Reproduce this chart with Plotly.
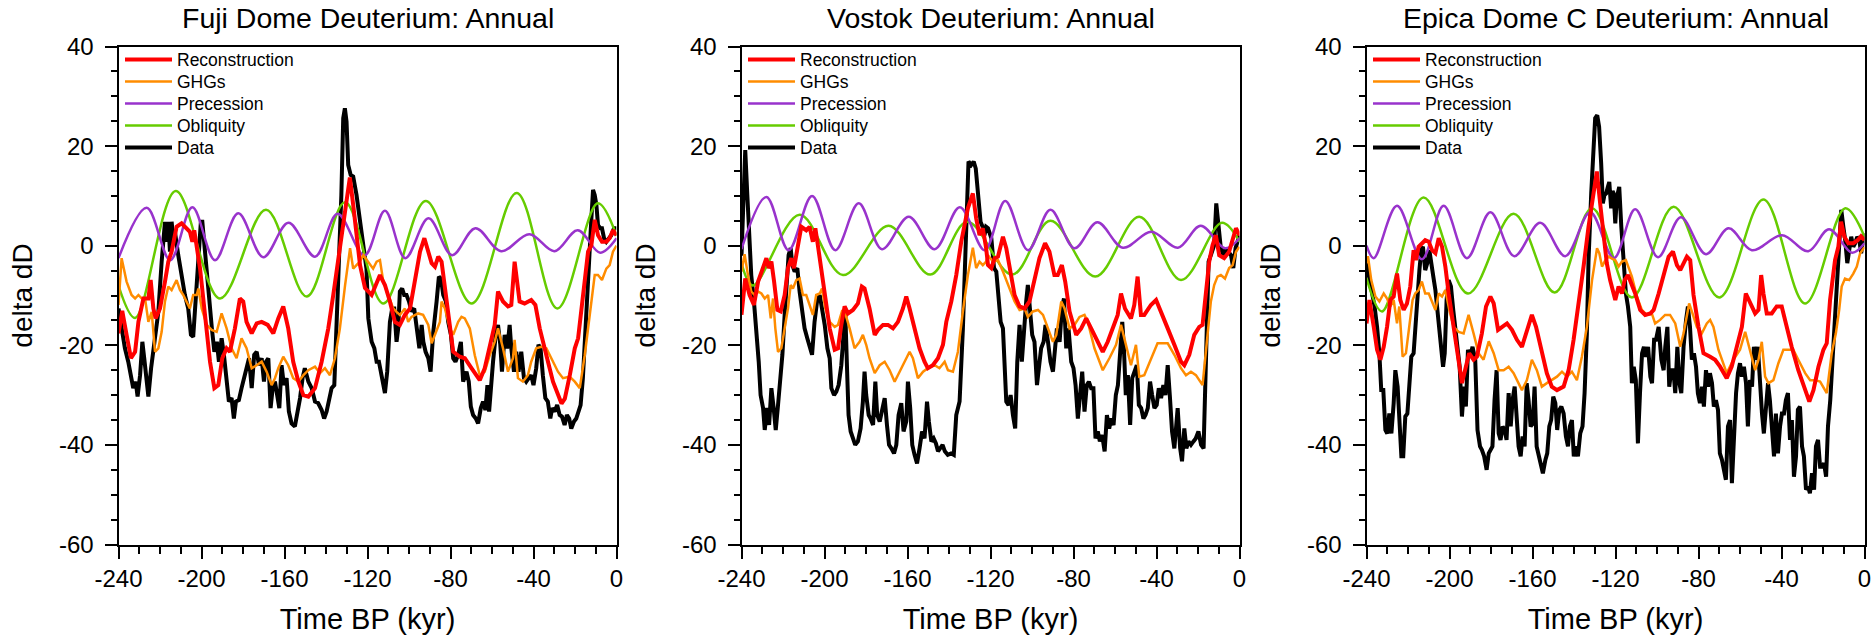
import plotly.graph_objects as go

# ---------------- data (time kyr BP, delta dD) ----------------
X_TICKS = [-240, -200, -160, -120, -80, -40, 0]
X_TICK_LABELS = ["-240", "-200", "-160", "-120", "-80", "-40", "0"]
Y_TICKS = [-60, -40, -20, 0, 20, 40]
Y_TICK_LABELS = ["-60", "-40", "-20", "0", "20", "40"]

TITLES = ["Fuji Dome Deuterium: Annual", "Vostok Deuterium: Annual", "Epica Dome C Deuterium: Annual"]
SERIES_NAMES = ["Reconstruction", "GHGs", "Precession", "Obliquity", "Data"]

# ---- Fuji Dome ----
FUJI_RECON = [(-240,-17.6),(-238.2,-13.1),(-236.1,-17.9),(-234.0,-22.6),(-232.0,-21.3),(-230.4,-15.3),(-228.0,-10.6),(-225.6,-10.6),(-224.5,-6.9),(-223.2,-12.6),(-222.1,-14.6),(-220.0,-12.6),(-217.6,-7.2),(-216.0,-3.2),(-214.4,-1.2),(-212.0,3.8),(-209.6,4.5),(-207.2,3.5),(-205.6,2.8),(-204.4,0.8),(-203.5,3.1),(-200.7,-4.6),(-198.3,-13.3),(-195.9,-23.3),(-193.8,-28.6),(-191.9,-28.0),(-190.0,-22.6),(-187.9,-20.6),(-186.3,-21.3),(-183.9,-16.6),(-181.5,-10.6),(-179.9,-11.2),(-178.3,-15.3),(-175.8,-17.6),(-173.4,-15.6),(-171.0,-15.3),(-168.1,-15.9),(-165.4,-17.6),(-163.0,-14.6),(-160.6,-12.2),(-158.2,-16.6),(-155.8,-23.3),(-153.3,-27.3),(-150.9,-30.0),(-148.5,-30.3),(-145.3,-28.6),(-142.1,-23.3),(-138.9,-16.6),(-136.5,-9.9),(-134.1,-3.2),(-130.9,6.2),(-128.5,13.7),(-126.9,8.2),(-125.3,1.5),(-123.6,-3.9),(-121.2,-8.5),(-118.0,-9.9),(-114.0,-5.9),(-111.6,-7.9),(-109.2,-11.2),(-106.8,-15.3),(-104.4,-15.9),(-102.0,-13.9),(-99.5,-12.6),(-97.1,-7.2),(-94.7,-1.2),(-92.6,1.5),(-90.7,-1.2),(-89.1,-3.5),(-87.5,-4.2),(-85.9,-2.2),(-84.3,-3.2),(-82.7,-8.6),(-80.3,-15.3),(-78.7,-21.3),(-75.5,-22.3),(-73.1,-22.6),(-69.9,-24.6),(-65.9,-27.0),(-63.5,-24.6),(-61.1,-20.6),(-58.7,-15.9),(-57.1,-9.2),(-54.7,-11.2),(-52.3,-12.2),(-50.7,-11.9),(-49.1,-3.2),(-47.8,-7.2),(-46.7,-11.2),(-44.3,-11.6),(-41.1,-10.9),(-39.1,-11.9),(-37.0,-16.6),(-33.8,-22.0),(-30.6,-27.3),(-26.5,-31.7),(-24.9,-30.7),(-22.5,-26.0),(-20.1,-20.6),(-18.5,-18.6),(-16.1,-9.9),(-13.7,-1.2),(-12.1,0.1),(-10.5,5.2),(-8.9,2.1),(-7.0,0.8),(-4.9,0.8),(-3.3,1.5),(-1.7,3.1),(0,2.1)]
FUJI_GHG = [(-240,-11.9),(-238.5,-2.5),(-236.1,-7.2),(-233.7,-9.9),(-232.0,-10.6),(-230.4,-9.9),(-228.8,-10.6),(-227.2,-10.6),(-225.6,-15.3),(-224.0,-13.3),(-222.4,-21.3),(-220.8,-20.6),(-219.2,-17.3),(-217.6,-11.2),(-216.0,-8.2),(-214.4,-8.9),(-212.0,-6.9),(-210.4,-8.9),(-208.8,-9.9),(-207.2,-11.2),(-205.6,-12.6),(-204.0,-9.9),(-202.3,-9.9),(-201.5,-8.6),(-199.9,-12.6),(-197.5,-15.9),(-195.1,-16.9),(-192.7,-17.3),(-190.3,-13.6),(-187.9,-16.6),(-185.5,-20.6),(-183.1,-22.6),(-180.7,-18.6),(-178.3,-20.6),(-175.8,-24.6),(-173.4,-24.0),(-171.0,-23.3),(-168.6,-25.3),(-166.2,-28.0),(-164.6,-26.6),(-163.0,-24.6),(-160.6,-22.3),(-158.2,-24.0),(-155.8,-26.6),(-153.3,-27.3),(-150.9,-26.0),(-148.5,-25.0),(-145.3,-24.3),(-142.9,-25.6),(-140.5,-24.6),(-138.1,-26.0),(-135.7,-22.6),(-133.3,-16.6),(-130.8,-7.9),(-128.4,-0.5),(-126.9,-4.6),(-125.3,-3.9),(-123.7,-3.2),(-122.0,-1.9),(-119.6,-3.2),(-117.3,-4.6),(-115.6,-3.2),(-114.0,-2.9),(-112.4,-7.2),(-110.0,-9.9),(-107.6,-12.6),(-106.0,-13.3),(-104.4,-13.9),(-102.0,-12.6),(-100.4,-15.3),(-98.8,-14.3),(-95.6,-13.6),(-93.2,-13.9),(-90.7,-15.9),(-89.1,-19.6),(-87.5,-17.9),(-85.1,-15.3),(-84.3,-11.2),(-82.7,-12.6),(-80.3,-16.6),(-78.7,-17.9),(-76.3,-15.3),(-74.7,-14.3),(-73.1,-14.6),(-70.7,-16.6),(-68.3,-22.0),(-65.9,-26.0),(-63.5,-25.3),(-61.1,-22.0),(-58.7,-19.3),(-57.1,-16.6),(-54.7,-20.6),(-52.3,-25.3),(-49.9,-22.6),(-49.1,-18.9),(-47.5,-26.6),(-45.1,-27.3),(-42.7,-26.0),(-41.1,-23.3),(-38.7,-20.6),(-36.2,-20.3),(-33.8,-20.6),(-31.4,-22.6),(-28.2,-25.3),(-25.8,-26.6),(-22.6,-26.3),(-20.1,-27.3),(-17.7,-28.6),(-15.3,-22.0),(-13.7,-16.6),(-12.1,-11.9),(-10.5,-5.9),(-8.9,-5.9),(-7.0,-6.9),(-4.9,-4.6),(-3.3,-3.9),(-1.7,-1.2),(0,0.0)]
FUJI_PREC = [(-240,-2.5),(-226.4,7.6),(-215.1,-2.9),(-204.4,7.7),(-193.5,-2.9),(-182.3,6.5),(-170.2,-2.3),(-158.1,4.6),(-145.3,-2.2),(-134.4,6.4),(-121.5,-2.0),(-111.6,7.0),(-101.8,-2.5),(-90.6,5.5),(-79.2,-1.9),(-68.0,3.5),(-55.6,-1.1),(-42.0,2.3),(-29.9,-1.1),(-18.7,3.1),(-7.9,-1.4),(0,1.5)]
FUJI_OBL = [(-240,-8.0),(-232.0,-14.5),(-212.4,11.0),(-191.1,-10.6),(-168.9,7.2),(-149.3,-10.2),(-130.8,8.7),(-112.4,-11.6),(-91.9,9.0),(-69.8,-11.6),(-48.1,10.6),(-28.5,-12.6),(-9.0,8.5),(0,2.0)]
FUJI_DATA = [(-240,-12.6),(-238.5,-16.6),(-236.9,-20.6),(-235.3,-23.3),(-234.0,-26.0),(-232.9,-28.6),(-231.7,-27.3),(-230.8,-30.3),(-229.6,-26.0),(-228.5,-19.3),(-227.6,-22.6),(-226.4,-28.6),(-225.6,-30.3),(-224.3,-24.6),(-223.2,-20.6),(-222.1,-17.9),(-220.8,-13.3),(-219.2,-3.2),(-217.6,4.8),(-216.8,0.8),(-216.0,4.8),(-215.2,-1.2),(-214.4,4.8),(-213.6,1.5),(-212.8,2.8),(-211.2,-1.9),(-209.6,-5.9),(-208.0,-9.9),(-206.4,-12.6),(-205.1,-17.9),(-204.0,-18.3),(-203.2,-13.3),(-201.5,-0.5),(-200.3,4.8),(-199.6,4.8),(-198.3,-1.9),(-196.6,-8.6),(-195.0,-16.6),(-193.8,-21.3),(-192.6,-19.3),(-191.6,-23.3),(-190.3,-18.6),(-189.2,-21.9),(-187.9,-28.0),(-186.8,-31.3),(-185.5,-30.6),(-184.4,-34.7),(-183.4,-31.3),(-182.0,-31.0),(-180.7,-28.6),(-179.4,-26.6),(-178.3,-24.6),(-177.1,-22.6),(-175.8,-28.6),(-174.6,-21.9),(-173.4,-21.3),(-172.3,-24.0),(-171.0,-22.6),(-169.9,-27.3),(-168.9,-23.3),(-167.8,-22.6),(-166.7,-32.6),(-165.7,-28.6),(-164.6,-27.3),(-163.5,-30.0),(-162.5,-32.6),(-161.4,-24.0),(-160.3,-28.0),(-159.0,-26.6),(-157.9,-33.3),(-156.6,-35.7),(-155.0,-36.3),(-153.7,-33.3),(-152.5,-30.6),(-151.3,-26.6),(-150.2,-24.6),(-148.5,-27.3),(-146.9,-28.6),(-145.3,-31.3),(-143.8,-31.6),(-142.1,-33.0),(-140.9,-34.7),(-139.7,-33.3),(-138.6,-31.3),(-137.3,-28.6),(-136.0,-28.0),(-134.9,-16.6),(-133.8,-3.2),(-132.6,10.2),(-131.7,25.6),(-130.9,27.6),(-130.1,24.9),(-129.3,16.2),(-128.1,14.2),(-126.9,13.9),(-125.3,10.2),(-123.7,5.5),(-122.1,1.5),(-120.5,-4.6),(-119.6,-14.6),(-118.0,-19.3),(-116.7,-20.6),(-115.6,-23.3),(-114.5,-23.3),(-113.5,-25.3),(-112.4,-27.3),(-111.6,-29.6),(-110.5,-25.3),(-109.2,-15.3),(-108.1,-12.6),(-107.1,-12.6),(-106.0,-19.3),(-105.2,-16.6),(-104.4,-9.2),(-103.3,-8.6),(-102.3,-9.9),(-101.2,-9.9),(-100.0,-11.2),(-98.8,-13.2),(-97.5,-12.6),(-96.3,-16.6),(-95.0,-20.6),(-93.9,-15.9),(-93.1,-19.3),(-92.0,-21.3),(-90.7,-22.6),(-89.6,-25.3),(-88.3,-17.3),(-86.7,-11.2),(-85.6,-6.2),(-84.6,-6.6),(-83.5,-9.9),(-82.2,-11.2),(-81.1,-15.3),(-79.8,-17.9),(-78.7,-22.6),(-77.6,-23.3),(-76.3,-21.9),(-75.0,-19.3),(-73.9,-27.3),(-72.3,-25.3),(-71.2,-27.3),(-70.2,-32.3),(-69.1,-34.0),(-67.8,-34.7),(-66.7,-35.7),(-65.4,-32.6),(-64.3,-31.3),(-63.2,-33.0),(-62.2,-28.0),(-61.4,-33.3),(-60.6,-28.0),(-59.5,-23.3),(-58.2,-17.9),(-57.1,-15.9),(-56.0,-19.9),(-55.2,-25.3),(-53.9,-17.9),(-52.6,-20.6),(-51.5,-15.9),(-50.7,-20.6),(-49.4,-25.3),(-48.3,-21.3),(-47.2,-25.3),(-45.9,-21.3),(-44.6,-26.6),(-43.5,-27.3),(-42.3,-26.6),(-41.1,-26.0),(-40.0,-28.0),(-38.7,-24.6),(-37.6,-19.9),(-36.6,-20.6),(-35.5,-26.0),(-34.3,-30.6),(-33.1,-31.3),(-31.9,-34.7),(-31.0,-32.6),(-29.8,-33.3),(-28.6,-32.0),(-27.4,-34.0),(-26.3,-34.3),(-25.0,-36.0),(-23.9,-34.0),(-22.8,-34.7),(-21.8,-36.7),(-20.5,-35.3),(-19.4,-34.7),(-18.3,-33.3),(-17.3,-32.0),(-16.2,-26.6),(-15.0,-16.6),(-14.1,-7.2),(-12.9,-1.2),(-12.1,5.5),(-11.3,11.2),(-10.5,10.2),(-9.7,8.2),(-8.9,4.1),(-7.8,3.5),(-7.0,3.5),(-6.0,1.5),(-4.9,0.8),(-3.6,1.5),(-2.5,2.1),(-1.2,3.5),(0,3.5)]

# ---- Vostok ----
VOSTOK_RECON = [(-240,-13.9),(-238.2,-6.6),(-236.1,-9.9),(-234.0,-11.9),(-232.0,-7.2),(-230.4,-5.2),(-228.0,-2.5),(-226.9,-4.5),(-225.6,-3.2),(-224.3,-7.2),(-222.7,-12.9),(-221.1,-13.2),(-219.2,-9.9),(-217.6,-4.5),(-216.0,-2.5),(-214.7,-4.5),(-212.8,0.1),(-211.2,3.8),(-208.8,3.1),(-207.2,3.8),(-205.6,0.8),(-204.4,3.5),(-203.2,0.1),(-201.5,-4.5),(-199.9,-9.9),(-197.5,-16.6),(-195.1,-20.9),(-193.5,-20.6),(-191.9,-15.9),(-190.3,-12.2),(-188.7,-13.6),(-186.3,-12.9),(-183.9,-11.6),(-182.0,-8.2),(-180.7,-8.6),(-178.3,-12.6),(-175.8,-17.9),(-174.2,-16.9),(-171.8,-15.9),(-169.4,-15.9),(-167.0,-16.6),(-164.6,-15.3),(-162.2,-12.6),(-160.6,-10.2),(-159.0,-12.6),(-156.6,-16.6),(-154.2,-20.6),(-151.8,-23.3),(-150.2,-24.6),(-147.8,-24.0),(-145.3,-22.6),(-142.9,-19.9),(-141.3,-15.3),(-138.9,-11.2),(-136.5,-5.9),(-134.1,0.8),(-130.9,7.5),(-128.5,10.5),(-126.9,5.5),(-125.3,2.1),(-123.7,3.5),(-122.1,-0.5),(-121.2,-3.9),(-119.6,-4.5),(-118.0,-2.5),(-116.4,-2.2),(-114.8,0.1),(-114.0,1.8),(-112.4,-0.5),(-110.8,-4.5),(-108.4,-9.9),(-106.0,-12.2),(-103.6,-12.6),(-101.2,-11.2),(-98.8,-6.6),(-96.4,-2.5),(-93.7,0.5),(-91.6,-1.2),(-89.2,-5.9),(-87.6,-5.9),(-85.6,-3.9),(-84.0,-7.2),(-81.9,-13.2),(-78.7,-17.9),(-76.3,-16.6),(-73.9,-14.6),(-71.5,-16.6),(-68.3,-19.3),(-65.9,-21.3),(-63.5,-19.3),(-61.1,-16.6),(-58.7,-13.9),(-57.1,-9.6),(-55.2,-12.6),(-52.3,-14.6),(-50.7,-11.9),(-49.1,-6.2),(-47.5,-13.9),(-45.9,-13.9),(-42.7,-11.9),(-40.2,-10.9),(-37.8,-13.2),(-34.6,-16.6),(-31.4,-19.9),(-28.2,-23.3),(-26.6,-24.0),(-24.2,-21.9),(-21.8,-17.9),(-19.4,-16.3),(-17.8,-15.9),(-16.2,-9.9),(-14.6,-3.2),(-13.0,0.1),(-11.4,2.1),(-9.8,-1.9),(-7.4,-2.5),(-5.0,-1.2),(-2.9,1.5),(-1.7,3.5),(0,2.1)]
VOSTOK_GHG = [(-240,-5.2),(-238.5,-1.7),(-236.9,-5.9),(-235.3,-9.2),(-233.7,-9.9),(-232.0,-9.2),(-230.4,-9.6),(-228.8,-10.6),(-227.2,-9.9),(-225.9,-14.6),(-224.8,-10.6),(-223.7,-16.6),(-222.4,-21.3),(-220.8,-20.6),(-219.2,-16.6),(-217.6,-12.6),(-216.3,-7.9),(-215.2,-8.6),(-213.6,-6.9),(-212.0,-6.6),(-210.4,-9.9),(-208.8,-9.9),(-207.2,-11.9),(-205.6,-13.9),(-204.0,-9.9),(-202.3,-9.6),(-201.2,-8.6),(-199.6,-12.6),(-197.5,-15.3),(-195.1,-16.3),(-193.5,-15.9),(-191.6,-13.2),(-190.0,-13.6),(-187.9,-16.6),(-185.5,-20.6),(-183.1,-19.3),(-181.5,-17.9),(-179.9,-19.9),(-178.3,-22.6),(-175.8,-25.6),(-173.4,-24.0),(-171.0,-23.3),(-168.6,-25.0),(-166.2,-27.3),(-163.8,-25.3),(-161.4,-23.3),(-159.0,-21.3),(-157.4,-22.6),(-155.0,-26.6),(-152.5,-25.3),(-150.2,-24.6),(-146.9,-24.0),(-144.6,-24.6),(-142.1,-23.3),(-140.5,-25.0),(-138.1,-25.3),(-135.7,-21.3),(-133.3,-13.2),(-130.9,-5.9),(-128.5,-0.4),(-126.9,-4.5),(-125.3,-3.2),(-123.7,-3.9),(-122.1,-3.2),(-121.2,-1.9),(-118.8,-3.2),(-116.4,-2.9),(-114.0,-5.2),(-111.6,-7.9),(-108.4,-11.2),(-106.0,-12.9),(-103.6,-12.6),(-102.0,-14.3),(-99.6,-13.2),(-97.1,-12.9),(-94.7,-13.9),(-92.3,-16.6),(-89.9,-19.3),(-88.3,-17.9),(-85.9,-11.2),(-84.3,-12.6),(-81.9,-16.6),(-79.5,-15.9),(-77.1,-14.3),(-74.7,-13.9),(-73.1,-15.3),(-69.9,-20.6),(-65.9,-25.0),(-62.7,-22.6),(-59.5,-19.9),(-57.1,-15.9),(-54.7,-19.9),(-52.3,-24.0),(-49.9,-19.9),(-48.3,-26.3),(-45.9,-26.0),(-42.7,-22.6),(-39.5,-19.6),(-34.6,-19.6),(-31.4,-21.9),(-28.2,-24.6),(-25.8,-26.0),(-23.4,-25.3),(-21.0,-26.0),(-17.8,-28.0),(-15.4,-17.9),(-13.8,-11.2),(-12.2,-7.9),(-10.6,-6.2),(-9.0,-5.9),(-7.0,-6.6),(-5.0,-4.5),(-3.3,-3.9),(-1.7,-1.2),(0,-0.2)]
VOSTOK_PREC = [(-240,-0.7),(-228.0,9.8),(-217.3,-0.9),(-206.0,10.0),(-194.8,-0.9),(-183.5,8.5),(-172.3,-0.7),(-159.4,5.8),(-146.9,-0.7),(-134.8,7.7),(-122.8,-0.9),(-112.9,9.0),(-101.9,-0.9),(-91.1,7.2),(-79.5,-0.5),(-68.5,4.7),(-56.2,-0.4),(-42.5,2.8),(-29.7,-0.4),(-18.7,4.0),(-6.9,-0.5),(0,1.5)]
VOSTOK_OBL = [(-240,-3.5),(-234.5,-8.0),(-212.0,6.2),(-191.1,-5.9),(-169.1,4.0),(-149.0,-5.8),(-131.2,4.8),(-109.5,-5.8),(-91.1,5.0),(-69.5,-6.2),(-48.3,5.8),(-28.2,-6.9),(-8.5,4.6),(0,0.8)]
VOSTOK_DATA = [(-240,-2.0),(-238.2,19.2),(-237.2,10.2),(-236.1,0.1),(-235.3,-5.9),(-234.0,-11.2),(-232.9,-16.6),(-231.7,-23.3),(-230.8,-30.0),(-229.6,-32.6),(-228.8,-37.0),(-227.7,-32.6),(-226.7,-36.0),(-225.6,-28.6),(-224.5,-32.6),(-223.5,-37.0),(-222.4,-32.0),(-221.3,-26.6),(-220.3,-21.9),(-219.2,-13.9),(-218.1,-7.2),(-217.3,-1.9),(-216.3,-0.5),(-215.5,-3.9),(-214.4,-5.2),(-213.1,-4.5),(-212.0,-9.2),(-210.9,-13.2),(-209.6,-16.6),(-208.3,-18.6),(-207.2,-20.6),(-206.0,-21.9),(-204.8,-15.3),(-203.6,-11.2),(-202.3,-9.9),(-201.2,-12.6),(-199.9,-15.9),(-198.6,-20.6),(-197.5,-22.6),(-196.7,-28.6),(-195.4,-30.0),(-194.3,-29.3),(-193.2,-28.0),(-191.9,-24.0),(-190.6,-16.6),(-190.0,-13.2),(-189.0,-26.6),(-188.4,-34.0),(-187.4,-37.3),(-186.3,-38.7),(-185.2,-40.0),(-183.9,-39.3),(-182.6,-36.7),(-181.5,-31.3),(-180.7,-25.3),(-179.9,-30.0),(-178.7,-34.0),(-177.8,-34.7),(-176.6,-36.0),(-175.5,-27.3),(-174.6,-34.0),(-173.4,-35.3),(-172.3,-32.6),(-171.0,-30.6),(-169.9,-36.0),(-168.9,-40.0),(-167.8,-40.7),(-166.5,-41.7),(-165.4,-40.0),(-164.3,-34.0),(-163.0,-31.6),(-161.9,-37.3),(-160.6,-35.3),(-159.8,-27.3),(-158.7,-32.6),(-157.7,-40.0),(-156.6,-42.0),(-155.4,-43.7),(-154.2,-40.7),(-153.0,-37.3),(-151.8,-38.7),(-150.6,-31.3),(-149.7,-35.3),(-148.5,-39.3),(-147.4,-38.7),(-146.3,-39.7),(-145.3,-41.3),(-144.2,-40.7),(-143.1,-40.0),(-142.0,-41.3),(-140.6,-42.0),(-139.0,-41.7),(-137.7,-42.0),(-136.5,-34.0),(-134.9,-31.3),(-133.3,-16.6),(-131.7,3.5),(-130.6,16.9),(-129.3,16.2),(-128.1,16.9),(-127.1,15.5),(-126.1,10.2),(-124.8,4.8),(-123.8,3.8),(-122.9,2.1),(-122.1,3.8),(-121.2,3.5),(-119.6,1.5),(-118.3,-4.5),(-117.2,-5.2),(-116.1,-9.9),(-115.1,-15.3),(-114.0,-16.6),(-113.2,-23.3),(-112.4,-31.3),(-111.3,-32.0),(-110.3,-30.0),(-109.2,-34.0),(-108.1,-36.7),(-107.1,-23.3),(-106.0,-15.9),(-104.9,-23.3),(-103.9,-16.6),(-102.8,-11.2),(-102.0,-7.9),(-100.8,-12.6),(-99.9,-17.9),(-98.8,-19.3),(-97.6,-28.0),(-96.7,-24.6),(-95.6,-20.6),(-94.4,-19.3),(-93.5,-15.9),(-92.3,-19.3),(-91.1,-23.3),(-89.9,-25.3),(-89.1,-20.6),(-88.0,-16.6),(-86.7,-19.3),(-85.6,-12.6),(-84.6,-10.6),(-83.5,-20.6),(-82.4,-16.6),(-81.1,-23.3),(-80.0,-24.6),(-79.0,-28.0),(-77.9,-34.7),(-76.8,-28.6),(-75.8,-25.3),(-74.7,-33.3),(-73.6,-28.0),(-72.6,-27.3),(-71.5,-28.6),(-70.4,-28.6),(-69.4,-38.7),(-68.3,-37.3),(-67.3,-39.3),(-66.2,-38.0),(-65.0,-41.3),(-63.9,-34.0),(-62.8,-36.7),(-61.8,-34.7),(-60.7,-36.0),(-59.6,-30.0),(-58.6,-28.0),(-57.5,-21.3),(-56.5,-15.3),(-55.7,-20.6),(-54.8,-30.0),(-53.8,-26.0),(-52.7,-36.0),(-51.7,-26.6),(-50.6,-25.3),(-49.5,-24.0),(-48.5,-32.0),(-47.4,-32.6),(-46.3,-34.7),(-45.3,-34.0),(-44.2,-32.6),(-43.1,-27.3),(-42.1,-30.0),(-41.0,-32.6),(-39.9,-32.0),(-38.9,-28.6),(-37.8,-30.6),(-36.7,-28.0),(-35.7,-30.0),(-34.6,-24.0),(-33.5,-30.6),(-32.5,-37.3),(-31.4,-40.7),(-30.6,-37.3),(-29.8,-32.6),(-28.6,-40.7),(-27.7,-43.3),(-26.6,-36.7),(-25.6,-40.7),(-24.6,-39.3),(-23.4,-40.0),(-22.2,-39.3),(-21.1,-38.7),(-19.8,-37.3),(-18.5,-40.0),(-17.3,-40.7),(-16.2,-19.9),(-14.9,-3.2),(-13.8,-1.9),(-12.2,0.1),(-11.2,8.5),(-10.1,3.5),(-9.0,-0.5),(-7.7,-1.9),(-6.5,-0.5),(-5.4,-1.2),(-4.1,-1.9),(-3.0,-4.5),(-1.9,-0.5),(0,2.1)]

# ---- Epica Dome C ----
EPICA_RECON = [(-240,-15.6),(-238.6,-10.9),(-236.5,-16.3),(-234.9,-20.9),(-233.3,-22.9),(-231.7,-20.3),(-230.1,-16.3),(-228.5,-10.9),(-226.9,-10.2),(-225.3,-5.6),(-223.7,-10.9),(-222.1,-12.9),(-220.5,-11.6),(-218.9,-8.2),(-217.3,-0.9),(-216.2,-2.9),(-214.9,-0.2),(-213.3,0.5),(-211.7,1.1),(-210.0,0.8),(-208.4,-0.9),(-206.8,-1.5),(-205.2,1.5),(-203.6,-0.2),(-202.0,-4.2),(-200.4,-9.6),(-198.0,-16.3),(-195.6,-22.9),(-194.0,-27.6),(-192.1,-24.3),(-190.5,-21.6),(-188.4,-22.9),(-186.8,-22.3),(-184.4,-17.6),(-182.4,-12.2),(-180.3,-10.2),(-178.7,-11.6),(-176.6,-16.9),(-174.7,-16.3),(-172.3,-15.6),(-169.9,-16.9),(-167.5,-18.9),(-165.1,-20.3),(-162.7,-16.9),(-160.3,-13.9),(-158.3,-16.3),(-155.5,-21.6),(-153.1,-25.6),(-150.7,-28.3),(-148.2,-29.0),(-145.0,-28.3),(-142.6,-25.0),(-140.2,-18.9),(-137.8,-12.2),(-135.4,-4.2),(-133.0,3.8),(-130.6,11.2),(-129.0,14.9),(-127.4,8.5),(-125.8,1.8),(-124.2,-3.5),(-122.6,-6.9),(-120.1,-10.9),(-118.5,-8.2),(-116.9,-9.6),(-115.6,-6.9),(-114.0,-5.9),(-112.4,-7.6),(-110.5,-9.6),(-108.1,-12.9),(-105.7,-13.9),(-103.2,-13.6),(-101.6,-12.9),(-99.2,-9.6),(-96.8,-5.6),(-94.4,-2.2),(-92.3,-1.2),(-90.4,-3.9),(-88.8,-4.9),(-87.2,-3.5),(-85.6,-2.2),(-84.0,-2.9),(-82.4,-9.9),(-80.0,-16.3),(-77.6,-21.6),(-74.4,-22.3),(-72.0,-22.9),(-69.6,-24.3),(-66.4,-26.6),(-64.0,-24.3),(-61.6,-20.3),(-59.1,-16.3),(-57.2,-9.6),(-55.1,-11.6),(-52.7,-13.6),(-51.1,-12.9),(-49.8,-5.9),(-48.7,-9.6),(-47.1,-13.6),(-44.7,-13.6),(-42.3,-12.2),(-39.9,-12.2),(-37.5,-16.3),(-35.1,-20.3),(-31.9,-25.0),(-28.6,-29.0),(-26.6,-31.3),(-24.6,-29.0),(-22.2,-24.3),(-19.8,-20.9),(-18.2,-19.6),(-16.6,-10.9),(-14.2,-2.9),(-12.6,-0.2),(-11.3,4.8),(-9.7,1.8),(-7.8,0.5),(-5.4,0.5),(-3.3,1.1),(-1.7,1.9),(0,1.1)]
EPICA_GHG = [(-240,-3.5),(-239.3,-2.1),(-237.7,-6.9),(-235.7,-10.2),(-233.8,-11.2),(-231.7,-9.6),(-230.1,-10.6),(-228.5,-12.2),(-226.9,-10.9),(-225.3,-15.6),(-224.2,-12.2),(-222.6,-22.3),(-221.0,-21.6),(-219.4,-16.3),(-217.8,-10.9),(-216.5,-9.6),(-214.9,-8.9),(-213.3,-7.2),(-211.7,-9.6),(-210.0,-9.6),(-208.4,-11.2),(-206.8,-12.9),(-205.2,-9.6),(-203.6,-10.2),(-202.0,-8.9),(-200.1,-12.9),(-198.0,-16.3),(-195.6,-17.3),(-193.2,-17.6),(-190.8,-13.9),(-188.4,-17.6),(-186.0,-21.6),(-183.6,-22.9),(-181.1,-19.2),(-178.7,-21.6),(-176.3,-25.0),(-173.9,-25.0),(-171.5,-24.3),(-169.1,-25.6),(-166.7,-27.6),(-165.1,-29.0),(-162.7,-27.0),(-160.3,-22.9),(-157.9,-25.0),(-155.5,-28.3),(-153.1,-27.6),(-150.7,-27.0),(-148.2,-26.3),(-145.8,-25.3),(-143.4,-26.3),(-141.0,-25.3),(-138.6,-27.0),(-136.2,-22.3),(-133.8,-16.3),(-131.3,-6.9),(-128.9,-0.5),(-127.8,-1.5),(-126.5,-4.2),(-124.9,-2.9),(-123.3,-2.2),(-121.7,-2.6),(-120.1,-2.9),(-118.5,-4.2),(-116.9,-3.2),(-115.0,-2.9),(-113.4,-4.9),(-112.1,-6.2),(-109.7,-10.2),(-107.3,-12.9),(-104.9,-13.9),(-102.5,-13.6),(-100.9,-15.6),(-98.5,-14.9),(-96.1,-13.9),(-93.7,-13.9),(-91.2,-15.6),(-88.8,-20.3),(-87.2,-17.6),(-85.1,-12.9),(-84.5,-11.6),(-82.9,-13.6),(-80.8,-16.3),(-78.4,-17.6),(-76.0,-15.6),(-74.4,-14.9),(-72.8,-16.3),(-70.4,-20.9),(-66.4,-25.6),(-63.2,-22.9),(-60.0,-20.9),(-57.5,-17.3),(-55.1,-20.9),(-52.7,-25.0),(-51.1,-22.9),(-49.5,-19.3),(-47.9,-26.3),(-46.3,-27.6),(-43.9,-27.0),(-41.5,-23.6),(-39.1,-20.9),(-36.7,-20.9),(-34.3,-20.9),(-31.9,-22.9),(-28.6,-25.6),(-26.2,-27.0),(-23.8,-27.0),(-21.4,-27.3),(-18.2,-29.6),(-15.8,-21.6),(-13.8,-17.6),(-12.2,-12.9),(-11.0,-8.2),(-9.4,-6.6),(-7.4,-6.9),(-5.4,-5.6),(-3.7,-4.2),(-2.1,-1.5),(0,-0.3)]
EPICA_PREC = [(-240,0.0),(-236.5,-2.5),(-225.3,8.0),(-213.3,-2.7),(-202.8,8.0),(-191.6,-2.5),(-180.3,6.7),(-168.8,-2.1),(-156.3,4.6),(-144.2,-2.1),(-132.2,6.7),(-120.8,-2.5),(-110.5,7.3),(-99.5,-2.3),(-88.5,5.7),(-76.4,-1.7),(-65.5,3.5),(-54.3,-0.9),(-39.8,2.1),(-27.1,-1.1),(-17.1,3.3),(-6.0,-1.4),(0,0.5)]
EPICA_OBL = [(-240,-6.5),(-232.5,-13.2),(-212.5,9.7),(-191.1,-9.6),(-169.1,6.4),(-149.3,-9.4),(-131.3,7.5),(-112.1,-10.4),(-92.0,7.8),(-70.0,-10.4),(-48.7,9.3),(-28.6,-11.6),(-9.3,7.5),(0,1.8)]
EPICA_DATA = [(-240,-3.5),(-238.6,-6.9),(-237.3,-9.6),(-236.1,-12.2),(-234.9,-16.3),(-233.8,-21.6),(-232.9,-29.0),(-231.9,-29.0),(-230.9,-37.0),(-230.0,-37.7),(-229.0,-33.7),(-228.0,-37.7),(-226.9,-31.6),(-226.1,-25.0),(-225.0,-28.3),(-224.0,-36.3),(-223.2,-42.3),(-222.3,-42.3),(-221.3,-34.3),(-220.3,-33.7),(-219.4,-28.3),(-218.4,-22.3),(-217.3,-21.6),(-216.5,-16.3),(-215.5,-9.6),(-214.5,-4.9),(-213.6,-0.9),(-212.8,-0.2),(-211.7,-4.9),(-210.7,-3.5),(-209.7,-0.9),(-208.8,-4.2),(-207.8,-6.2),(-206.8,-8.9),(-205.9,-12.9),(-204.9,-15.6),(-204.0,-20.3),(-203.1,-24.3),(-202.3,-21.6),(-201.4,-10.9),(-200.4,-6.9),(-199.3,-8.2),(-198.2,-12.9),(-197.2,-16.9),(-196.1,-20.3),(-195.1,-24.3),(-194.0,-34.3),(-193.0,-28.3),(-192.1,-32.3),(-191.1,-20.9),(-190.0,-22.3),(-188.9,-20.3),(-187.6,-22.9),(-186.5,-37.0),(-185.3,-40.3),(-184.4,-41.0),(-183.3,-42.3),(-182.1,-45.0),(-181.1,-41.7),(-180.2,-41.0),(-179.3,-40.3),(-178.3,-31.0),(-177.3,-25.0),(-176.3,-37.7),(-175.4,-39.0),(-174.4,-36.3),(-173.4,-37.0),(-172.5,-39.0),(-171.5,-29.6),(-170.5,-36.3),(-169.6,-31.0),(-168.6,-28.3),(-167.7,-33.7),(-166.7,-40.3),(-165.7,-42.3),(-164.8,-38.3),(-163.8,-40.3),(-162.8,-27.6),(-161.9,-31.0),(-160.9,-36.3),(-159.9,-35.7),(-159.0,-28.3),(-158.0,-40.3),(-157.0,-42.3),(-155.9,-43.7),(-155.0,-45.7),(-153.8,-43.0),(-152.9,-41.7),(-151.9,-36.3),(-151.0,-35.0),(-150.0,-30.3),(-149.0,-31.6),(-148.1,-37.0),(-147.1,-33.0),(-146.1,-32.3),(-145.0,-33.7),(-143.9,-38.3),(-142.9,-40.3),(-142.0,-36.3),(-141.0,-35.0),(-140.1,-42.3),(-139.1,-40.3),(-138.1,-42.3),(-137.0,-37.7),(-135.9,-36.3),(-134.9,-29.6),(-133.8,-17.6),(-133.0,-2.9),(-131.7,10.5),(-130.6,20.5),(-129.8,25.6),(-128.8,26.2),(-127.9,23.9),(-126.9,16.5),(-126.1,8.5),(-125.3,10.2),(-124.5,10.5),(-123.7,11.8),(-123.0,12.8),(-122.1,7.5),(-121.4,11.0),(-120.9,10.5),(-120.1,4.5),(-119.3,9.8),(-118.2,11.8),(-117.2,3.8),(-116.1,-2.9),(-115.0,-9.6),(-114.0,-12.2),(-112.9,-16.3),(-112.1,-27.6),(-111.2,-24.3),(-110.2,-27.0),(-109.2,-39.7),(-108.2,-29.6),(-107.2,-21.6),(-106.3,-20.3),(-105.3,-22.3),(-104.3,-20.3),(-103.2,-26.3),(-102.4,-27.6),(-101.4,-18.9),(-100.5,-18.9),(-99.2,-16.3),(-97.9,-22.9),(-96.8,-25.0),(-96.0,-20.3),(-95.0,-16.3),(-94.1,-28.3),(-93.1,-25.0),(-92.1,-25.0),(-91.2,-29.6),(-90.2,-20.3),(-89.2,-27.6),(-88.3,-29.6),(-87.2,-20.3),(-86.0,-14.9),(-85.1,-12.2),(-84.1,-16.3),(-83.2,-22.9),(-82.2,-21.6),(-81.2,-24.3),(-80.3,-29.6),(-79.3,-31.6),(-78.3,-28.3),(-77.4,-32.3),(-76.4,-25.0),(-75.4,-28.3),(-74.5,-25.6),(-73.5,-27.6),(-72.6,-32.3),(-71.6,-31.0),(-70.6,-33.0),(-69.7,-41.7),(-68.7,-43.0),(-67.7,-45.7),(-66.8,-47.0),(-65.8,-36.3),(-64.8,-35.0),(-63.9,-47.7),(-62.9,-36.3),(-61.9,-29.6),(-61.0,-25.6),(-60.0,-23.6),(-59.1,-26.3),(-58.1,-24.3),(-57.1,-27.6),(-56.2,-36.3),(-55.2,-27.0),(-54.2,-28.3),(-53.3,-20.3),(-52.3,-22.9),(-51.4,-20.3),(-50.4,-27.6),(-49.4,-33.7),(-48.5,-37.7),(-47.5,-33.0),(-46.5,-27.6),(-45.6,-31.0),(-44.6,-36.3),(-43.6,-42.3),(-42.7,-33.7),(-41.7,-41.7),(-40.7,-36.3),(-39.8,-33.7),(-38.8,-33.7),(-37.9,-31.0),(-36.9,-29.6),(-35.9,-39.0),(-35.0,-35.0),(-34.0,-46.4),(-33.0,-42.3),(-32.1,-32.9),(-31.1,-32.3),(-30.1,-40.3),(-29.2,-42.3),(-28.2,-49.0),(-27.2,-48.4),(-26.3,-49.7),(-25.3,-45.7),(-24.3,-49.0),(-23.4,-40.3),(-22.4,-39.0),(-21.4,-44.4),(-20.5,-44.4),(-19.5,-43.7),(-18.5,-46.4),(-17.6,-36.3),(-16.5,-31.0),(-15.4,-22.9),(-14.4,-14.9),(-13.3,-6.9),(-12.2,1.8),(-11.2,7.2),(-10.2,3.8),(-9.3,1.1),(-8.3,-3.5),(-7.4,-0.9),(-6.4,1.8),(-5.4,-0.2),(-4.5,0.5),(-3.5,1.8),(-2.5,1.1),(-1.6,-1.5),(0,2.5)]

PANEL_DATA = [
    (FUJI_RECON, FUJI_GHG, FUJI_PREC, FUJI_OBL, FUJI_DATA),
    (VOSTOK_RECON, VOSTOK_GHG, VOSTOK_PREC, VOSTOK_OBL, VOSTOK_DATA),
    (EPICA_RECON, EPICA_GHG, EPICA_PREC, EPICA_OBL, EPICA_DATA),
]

# ---------------- styling ----------------
W, H = 1874, 641
FONT = "Liberation Sans, Arial, Helvetica, sans-serif"
COLORS = {"Reconstruction": "#FF0000", "GHGs": "#FF8C00", "Precession": "#9933CC",
          "Obliquity": "#66CC00", "Data": "#000000"}
WIDTHS = {"Reconstruction": 4, "GHGs": 2.5, "Precession": 2.5, "Obliquity": 2.5, "Data": 4}
SHAPES = {"Reconstruction": "linear", "GHGs": "linear", "Precession": "spline",
          "Obliquity": "spline", "Data": "linear"}

PX_X = [(118.5, 616.5), (741.5, 1239.5), (1366.5, 1864.5)]
PX_TOP, PX_BOT = 46.5, 544.5
ydom = [(H - PX_BOT) / H, (H - PX_TOP) / H]
LEGEND_ROW_PX = [59, 81, 103, 125, 147]      # centre of each legend row, px from top

fig = go.Figure()
layout = dict(width=W, height=H, margin=dict(l=0, r=0, t=0, b=0, autoexpand=False),
              paper_bgcolor="white", plot_bgcolor="white",
              font=dict(family=FONT, color="black"), annotations=[])

draw_order = ["Data", "Obliquity", "Precession", "GHGs", "Reconstruction"]
for i in range(3):
    sfx = "" if i == 0 else str(i + 1)
    xa, ya = "x" + sfx, "y" + sfx
    series = dict(zip(SERIES_NAMES, PANEL_DATA[i]))
    x0, x1 = PX_X[i]
    for name in draw_order:
        pts = series[name]
        row = SERIES_NAMES.index(name)
        n = i * 5 + row
        leg_id = "legend" + ("" if n == 0 else str(n + 1))
        line = dict(color=COLORS[name], width=WIDTHS[name], shape=SHAPES[name])
        if SHAPES[name] == "spline":
            line["smoothing"] = 1.0
        fig.add_trace(go.Scatter(
            x=[p[0] for p in pts], y=[p[1] for p in pts], mode="lines",
            name=name, line=line, xaxis=xa, yaxis=ya, legend=leg_id, showlegend=True,
            hoverinfo="skip"))
        layout[leg_id] = dict(x=(x0 + 1.5) / W, y=(H - (LEGEND_ROW_PX[row] - 17.4)) / H,
                              xanchor="left", yanchor="top",
                              bgcolor="rgba(0,0,0,0)", borderwidth=0,
                              font=dict(family=FONT, size=17.5, color="black"), itemwidth=47)
    dom = [x0 / W, x1 / W]
    axis_common = dict(showline=True, linecolor="black", linewidth=2, mirror=True,
                       ticks="outside", tickwidth=2, tickcolor="black", ticklen=12,
                       showgrid=False, zeroline=False, automargin=False,
                       ticklabelposition="outside",
                       tickfont=dict(family=FONT, size=24, color="black"))
    layout["xaxis" + sfx] = dict(axis_common, domain=dom, anchor=ya, range=[-240, 0],
                                 tickmode="array", tickvals=X_TICKS, ticktext=X_TICK_LABELS,
                                 ticklabelstandoff=0,
                                 title=dict(text="Time BP (kyr)", standoff=17,
                                            font=dict(family=FONT, size=29)),
                                 minor=dict(dtick=10, tick0=0, ticks="outside", ticklen=7,
                                            tickwidth=1.5, tickcolor="black", showgrid=False))
    layout["yaxis" + sfx] = dict(axis_common, domain=ydom, anchor=xa, range=[-60, 40],
                                 tickmode="array", tickvals=Y_TICKS, ticktext=Y_TICK_LABELS,
                                 ticklabelstandoff=6,
                                 title=dict(text="delta dD", standoff=18,
                                            font=dict(family=FONT, size=28)),
                                 minor=dict(dtick=5, tick0=0, ticks="outside", ticklen=6,
                                            tickwidth=1.5, tickcolor="black", showgrid=False))
    cx = (x0 + x1) / 2 / W
    layout["annotations"].append(dict(text=TITLES[i], x=cx, y=1.0, xref="paper",
                                      yref="paper", xanchor="center", yanchor="top",
                                      showarrow=False, font=dict(family=FONT, size=28.5)))

fig.update_layout(**layout)
fig.write_html("out.html")
